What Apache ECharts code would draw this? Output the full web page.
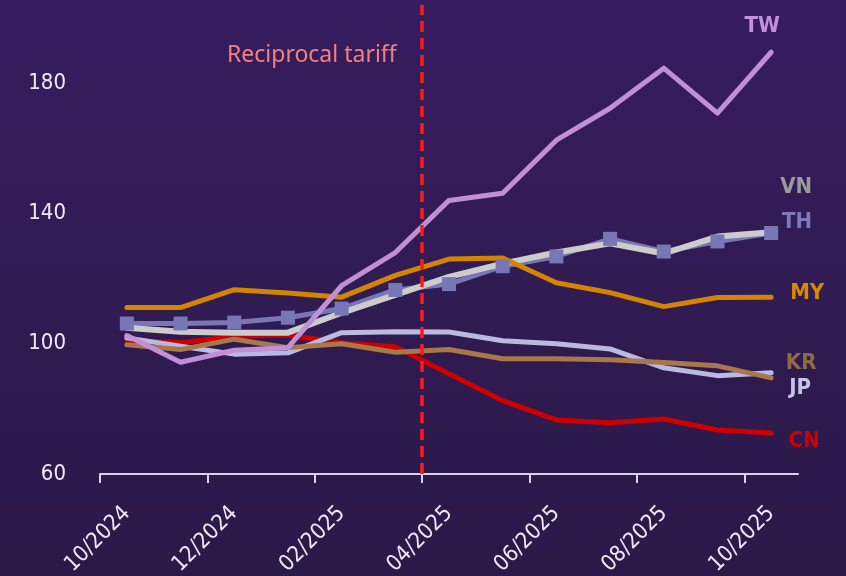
<!DOCTYPE html>
<html>
<head>
<meta charset="utf-8">
<style>
html, body { margin: 0; padding: 0; background: #321c57; }
#main { width: 846px; height: 576px; }
</style>
<script src="https://cdn.jsdelivr.net/npm/echarts@6/dist/echarts.min.js"></script>
</head>
<body>
<div id="main"></div>
<script>
// months (categories)
var months = ['10/2024', '11/2024', '12/2024', '01/2025', '02/2025', '03/2025', '04/2025',
              '05/2025', '06/2025', '07/2025', '08/2025', '09/2025', '10/2025'];

// index values per economy
var tw = [102.5, 94.3, 98.0, 98.8, 117.8, 128.0, 144.0, 146.2, 162.5, 172.3, 184.6, 170.8, 189.5];
var vn = [104.9, 103.7, 103.4, 103.4, 109.5, 115.0, 120.5, 124.6, 128.0, 130.8, 127.7, 132.9, 134.2];
var th = [106.2, 106.2, 106.5, 108.0, 110.8, 116.5, 118.3, 123.8, 126.8, 132.2, 128.3, 131.4, 134.0];
var my = [111.1, 111.1, 116.6, 115.6, 114.3, 121.0, 126.0, 126.3, 118.7, 115.7, 111.4, 114.2, 114.3];
var kr = [99.7, 98.2, 101.4, 98.8, 100.0, 97.4, 98.2, 95.4, 95.4, 95.1, 94.2, 93.2, 89.5];
var jp = [101.8, 99.2, 96.8, 97.2, 103.4, 103.7, 103.6, 100.9, 100.0, 98.4, 92.6, 90.2, 91.1];
var cn = [101.1, 100.3, 102.3, 102.7, 100.3, 99.1, 90.8, 82.5, 76.6, 75.7, 76.9, 73.5, 72.6];

// y axis ticks
var yMin = 60, yMax = 204, yStep = 40;

// tariff event
var tariffMonth = '04/2025';
var tariffText = 'Reciprocal tariff';
var tariffTextLevel = 188.6;

var FONT = "'Liberation Sans Narrow', 'DejaVu Sans Condensed', sans-serif";

// month i is drawn in the middle of its slot [i, i+1]
var tickPos = [], labelPos = [];
for (var i = 0; i < months.length; i += 2) {
    tickPos.push(i);
    labelPos.push(i + 0.5);
}
function toPoints(arr) {
    return arr.map(function (v, i) { return [i + 0.5, v]; });
}

var myChart = echarts.init(document.getElementById('main'));

// line + end label
function lineSeries(name, data, color, labelColor, offset, opts) {
    opts = opts || {};
    var last = data.length - 1;
    return {
        name: name,
        type: 'line',
        data: toPoints(data),
        symbol: opts.symbol || 'none',
        symbolSize: opts.symbolSize || 0,
        showSymbol: !!opts.symbol,
        lineStyle: { color: color, width: opts.width || 5, cap: 'round', join: 'round' },
        itemStyle: { color: color },
        emphasis: { disabled: true },
        markPoint: {
            silent: true,
            symbol: 'circle',
            symbolSize: 1,
            itemStyle: { color: 'rgba(0,0,0,0)' },
            label: {
                show: true,
                position: 'inside',
                formatter: name,
                color: labelColor,
                fontFamily: FONT,
                fontSize: 22,
                fontWeight: 'bold',
                offset: offset
            },
            data: [{ coord: [last + 0.5, data[last]] }]
        }
    };
}

var option = {
    animation: false,
    backgroundColor: new echarts.graphic.LinearGradient(0, 0, 0, 1, [
        { offset: 0, color: '#361d5e' },
        { offset: 1, color: '#2b1948' }
    ]),
    grid: { left: 100, right: 48, top: 5, bottom: 102, outerBoundsMode: 'none' },
    xAxis: {
        type: 'value',
        min: 0,
        max: months.length,
        axisLine: { show: true, lineStyle: { color: '#d8d4e2', width: 2 } },
        axisTick: { show: true, customValues: tickPos, length: 9, lineStyle: { color: '#d8d4e2', width: 2 } },
        axisLabel: {
            customValues: labelPos,
            formatter: function (v) { return months[Math.floor(v)]; },
            rotate: 45,
            margin: 36,
            color: '#efe9f7',
            fontFamily: FONT,
            fontSize: 22
        },
        splitLine: { show: false }
    },
    yAxis: {
        type: 'value',
        min: yMin,
        max: yMax,
        interval: yStep,
        axisLine: { show: false },
        axisTick: { show: false },
        splitLine: { show: false },
        axisLabel: {
            margin: 34,
            showMaxLabel: false,
            color: '#efe9f7',
            fontFamily: FONT,
            fontSize: 22
        }
    },
    series: [
        lineSeries('CN', cn, '#cc0000', '#cc0000', [33, 8]),
        lineSeries('JP', jp, '#b9b9e2', '#c2c2ea', [29, 16]),
        lineSeries('KR', kr, '#a8784a', '#8e6b45', [30, -15]),
        lineSeries('TH', th, '#7777b5', '#7b7bbb', [26, -11], { symbol: 'rect', symbolSize: 14 }),
        lineSeries('VN', vn, '#cccccc', '#9a9a9a', [25, -45], { width: 6 }),
        lineSeries('MY', my, '#d38500', '#d68a00', [36, -4]),
        lineSeries('TW', tw, '#c28fd6', '#c490d9', [-9, -26]),
        {
            name: 'tariff',
            type: 'line',
            data: [],
            markLine: {
                silent: true,
                symbol: 'none',
                label: { show: false },
                lineStyle: { color: '#ff1a1a', width: 3.5, type: [11, 6], opacity: 1 },
                data: [{ xAxis: months.indexOf(tariffMonth) }]
            },
            markPoint: {
                silent: true,
                symbol: 'circle',
                symbolSize: 1,
                itemStyle: { color: 'rgba(0,0,0,0)' },
                label: {
                    show: true,
                    position: 'left',
                    distance: 25,
                    formatter: tariffText,
                    color: '#f4807e',
                    fontFamily: "'Noto Sans', sans-serif",
                    fontSize: 23
                },
                data: [{ coord: [months.indexOf(tariffMonth), tariffTextLevel] }]
            }
        }
    ]
};
myChart.setOption(option);
</script>
</body>
</html>
